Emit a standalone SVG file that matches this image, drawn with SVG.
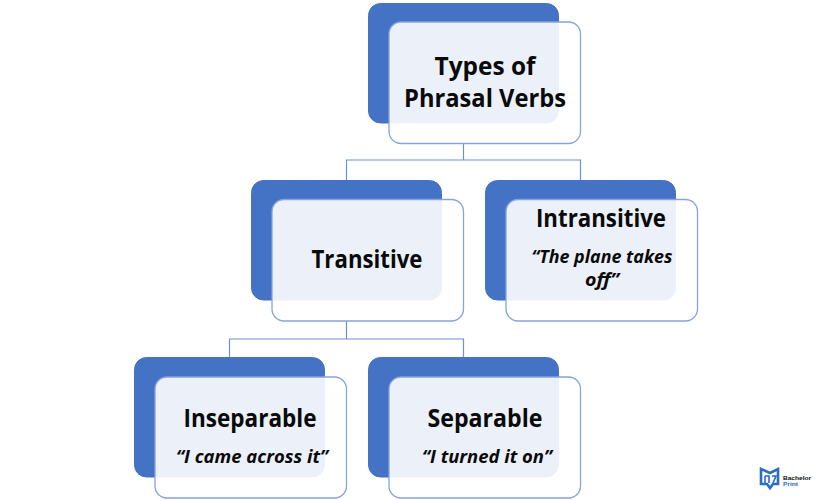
<svg xmlns="http://www.w3.org/2000/svg" width="825" height="500" viewBox="0 0 825 500">
<style>
.back{fill:#4472c4;stroke:#4472c4;stroke-width:1}
.front{fill:#fff;fill-opacity:.9;stroke:#86a3dd;stroke-width:1.3}
.con{fill:none;stroke:#6f8fd3;stroke-width:1.2}
text{font-family:"Open Sans","Liberation Sans",sans-serif;fill:#0a0a0a;text-anchor:middle}
.t{font-size:25.500px;font-weight:700}
.q{font-size:18.500px;font-weight:700;font-style:italic}
.l{text-anchor:start;font-size:6px;font-weight:700;font-family:"Liberation Sans",sans-serif}
</style>
<rect width="825" height="500" fill="#fff"/>
<g id="connectors">
<path class="con" d="M463.5 143V160M346.5 180V160H580.5V180"/>
<path class="con" d="M346.5 321V339M229.5 357V339H463.5V357"/>
</g>
<g id="node-types">
<rect class="back" x="368.5" y="3.500" width="190" height="119.500" rx="12"/>
<rect class="front" x="389" y="22" width="191.500" height="121.500" rx="12"/>
<text class="t" x="485" y="74.500" textLength="101" lengthAdjust="spacingAndGlyphs">Types of</text>
<text class="t" x="485" y="107" textLength="162" lengthAdjust="spacingAndGlyphs">Phrasal Verbs</text>
</g>
<g id="node-transitive">
<rect class="back" x="251.500" y="180.500" width="190" height="119.500" rx="12"/>
<rect class="front" x="272" y="199.500" width="191.500" height="121.500" rx="12"/>
<text class="t" x="367" y="268" textLength="111" lengthAdjust="spacingAndGlyphs">Transitive</text>
</g>
<g id="node-intransitive">
<rect class="back" x="485.500" y="180.500" width="190" height="119.500" rx="12"/>
<rect class="front" x="506" y="199.500" width="191.500" height="121.500" rx="12"/>
<text class="t" x="601" y="227" textLength="130" lengthAdjust="spacingAndGlyphs">Intransitive</text>
<text class="q" x="602" y="262.500" textLength="141" lengthAdjust="spacingAndGlyphs">“The plane takes</text>
<text class="q" x="602" y="286" textLength="34" lengthAdjust="spacingAndGlyphs">off”</text>
</g>
<g id="node-inseparable">
<rect class="back" x="134.500" y="357.500" width="190" height="119.500" rx="12"/>
<rect class="front" x="155" y="377" width="191.500" height="121" rx="12"/>
<text class="t" x="250" y="427" textLength="133" lengthAdjust="spacingAndGlyphs">Inseparable</text>
<text class="q" x="252" y="463" textLength="152" lengthAdjust="spacingAndGlyphs">“I came across it”</text>
</g>
<g id="node-separable">
<rect class="back" x="368.500" y="357.500" width="190" height="119.500" rx="12"/>
<rect class="front" x="389" y="377" width="191.500" height="121" rx="12"/>
<text class="t" x="485" y="427" textLength="115" lengthAdjust="spacingAndGlyphs">Separable</text>
<text class="q" x="487" y="463" textLength="130" lengthAdjust="spacingAndGlyphs">“I turned it on”</text>
</g>
<g id="logo">
<path d="M761 469L770 473L778 469V484H773L770 488L767 484H761Z" fill="#fff" stroke="#2a6cc6" stroke-width="2.600"/>
<path d="M765 476H769V483M765 483V476M772 476H776L773 483" fill="none" stroke="#2a6cc6" stroke-width="1.600"/>
<text class="l" x="783" y="480" textLength="28" lengthAdjust="spacingAndGlyphs">Bachelor</text>
<text class="l" x="783" y="486" style="fill:#2a6cc6" textLength="15" lengthAdjust="spacingAndGlyphs">Print</text>
</g>
</svg>
